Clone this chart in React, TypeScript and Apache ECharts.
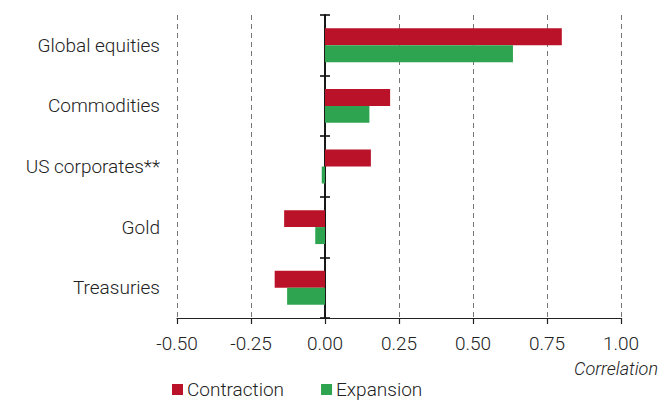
import React, { useEffect, useRef } from "react";
import * as echarts from "echarts";

const categories = ["Global equities", "Commodities", "US corporates**", "Gold", "Treasuries"];
const contraction = [0.8, 0.22, 0.155, -0.138, -0.17];
const expansion = [0.635, 0.15, -0.011, -0.033, -0.128];
const xTicks = { min: -0.5, max: 1.0, interval: 0.25 };
const axisTitle = "Correlation";
const seriesNames = ["Contraction", "Expansion"];

const FONT = "Roboto";

export default function App() {
  const ref = useRef<HTMLDivElement>(null);
  useEffect(() => {
    if (!ref.current) return;
    const chart = echarts.init(ref.current, undefined, { renderer: "svg" });
    const yCats = [...categories].reverse();
    const c = [...contraction].reverse();
    const e = [...expansion].reverse();
    chart.setOption({
      animation: false,
      textStyle: { fontFamily: FONT },
      grid: { left: 177, right: 41, top: 15, bottom: 83 },
      legend: {
        left: 172,
        top: 380,
        padding: 0,
        itemWidth: 11,
        itemHeight: 11,
        itemGap: 37,
        icon: "rect",
        textStyle: { fontFamily: FONT, fontSize: 19, color: "#222", fontWeight: 300, padding: [0, 0, 0, -1] },
        data: seriesNames,
      },
      graphic: [
        {
          type: "text",
          right: 4,
          top: 359,
          style: {
            text: axisTitle,
            font: `italic 300 18px ${FONT}`,
            fill: "#222",
          },
        },
      ],
      xAxis: [
        {
          type: "value",
          min: xTicks.min,
          max: xTicks.max,
          interval: xTicks.interval,
          axisLine: { show: true, onZero: false, lineStyle: { color: "#222", width: 1.2 } },
          axisTick: { show: true, length: 6, lineStyle: { color: "#222", width: 1.2 } },
          axisLabel: {
            margin: 16,
            fontSize: 19,
            fontWeight: 300,
            color: "#222",
            fontFamily: FONT,
            formatter: (v: number) => v.toFixed(2),
          },
          splitLine: { show: true, lineStyle: { type: [5, 4], color: "#777", width: 1 } },
        },
        {
          type: "value",
          min: xTicks.min,
          max: xTicks.max,
          interval: xTicks.interval,
          position: "bottom",
          show: false,
          axisLine: { onZero: false },
          splitLine: { show: false },
        },
      ],
      yAxis: [
        {
          type: "category",
          data: yCats,
          position: "left",
          axisLine: { show: false, onZero: false },
          axisTick: { show: false },
          axisLabel: { margin: 17, fontSize: 19, fontWeight: 300, color: "#222", fontFamily: FONT },
        },
        {
          type: "category",
          data: yCats,
          position: "left",
          axisLine: { show: true, onZero: true, onZeroAxisIndex: 0, lineStyle: { color: "#111", width: 1.6 } },
          axisTick: { show: true, length: 5, lineStyle: { color: "#111", width: 1.6 } },
          axisLabel: { show: false },
        },
        {
          type: "category",
          data: yCats,
          position: "left",
          axisLine: { show: true, onZero: true, onZeroAxisIndex: 1, lineStyle: { color: "#111", width: 1.6 } },
          axisTick: { show: true, inside: true, length: 5, lineStyle: { color: "#111", width: 1.6 } },
          axisLabel: { show: false },
        },
      ],
      series: [
        {
          name: seriesNames[0],
          type: "bar",
          xAxisIndex: 0,
          yAxisIndex: 0,
          data: c,
          itemStyle: { color: "#BA1229" },
          barWidth: "28%",
          barGap: "0%",
          z: 1,
        },
        {
          name: seriesNames[1],
          type: "bar",
          xAxisIndex: 0,
          yAxisIndex: 0,
          data: e,
          itemStyle: { color: "#2EA450" },
          barWidth: "28%",
          barGap: "0%",
          z: 1,
        },
      ],
    });
    return () => chart.dispose();
  }, []);
  return <div ref={ref} style={{ width: 662, height: 401, position: "absolute", left: 0, top: 0 }} />;
}
